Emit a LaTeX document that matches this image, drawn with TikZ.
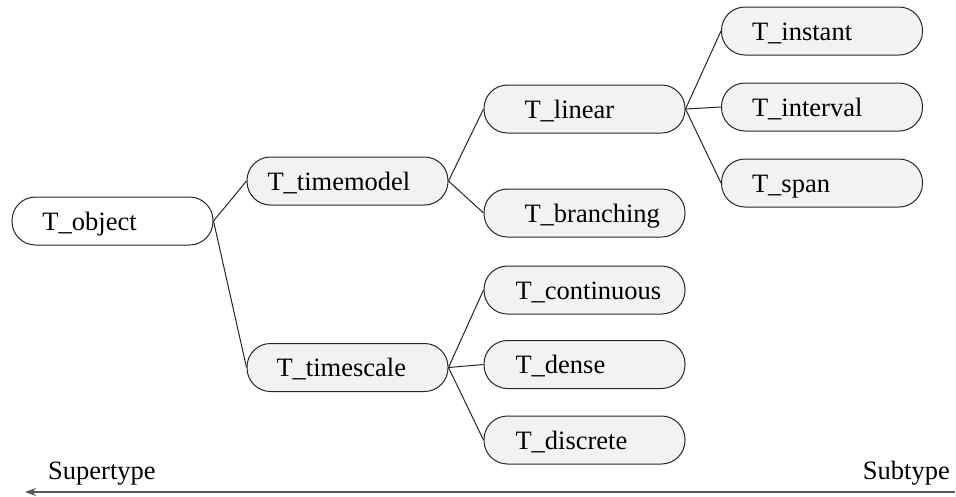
\documentclass[tikz,border=0pt]{standalone}
\usepackage{fontspec}
\setmainfont{Liberation Serif}
\usetikzlibrary{arrows.meta}
\newcommand\boxlbl[2]{\makebox[200pt][l]{\hspace*{#1}#2}}
\begin{document}
\begin{tikzpicture}[x=1pt,y=-1pt,
  box/.style={draw=black!85, line width=1pt, rounded corners=23.5pt,
    minimum width=201pt, minimum height=48pt, inner sep=0pt,
    fill=black!5, text height=18pt, text depth=0pt,
    font=\fontsize{26.5}{30}\selectfont},
  link/.style={draw=black!85, line width=1pt},
  plain/.style={inner sep=0pt, font=\fontsize{26.5}{30}\selectfont}]
\useasboundingbox (0,0) rectangle (956,496);

\node[box, fill=white] (obj) at (112.5,221) {\boxlbl{30pt}{T\_object}};
\node[box] (tm)   at (347.5,181)   {\boxlbl{20pt}{T\_timemodel}};
\node[box] (ts)   at (347.5,367.5) {\boxlbl{29pt}{T\_timescale}};
\node[box] (lin)  at (584.5,109)   {\boxlbl{40pt}{T\_linear}};
\node[box] (br)   at (584.5,213)   {\boxlbl{40pt}{T\_branching}};
\node[box] (cont) at (584.5,290)   {\boxlbl{31pt}{T\_continuous}};
\node[box] (den)  at (584.5,364.5) {\boxlbl{31pt}{T\_dense}};
\node[box] (dis)  at (584.5,440)   {\boxlbl{31pt}{T\_discrete}};
\node[box] (inst) at (822,31)      {\boxlbl{30pt}{T\_instant}};
\node[box] (intv) at (822,107)     {\boxlbl{30pt}{T\_interval}};
\node[box] (span) at (822,183)     {\boxlbl{30pt}{T\_span}};

\draw[link] (obj.east) -- (tm.west);
\draw[link] (obj.east) -- (ts.west);
\draw[link] (tm.east) -- (lin.west);
\draw[link] (tm.east) -- (br.west);
\draw[link] (ts.east) -- (cont.west);
\draw[link] (ts.east) -- (den.west);
\draw[link] (ts.east) -- (dis.west);
\draw[link] (lin.east) -- (inst.west);
\draw[link] (lin.east) -- (intv.west);
\draw[link] (lin.east) -- (span.west);

\node[plain, anchor=base west] (sup) at (48,479) {Supertype};
\node[plain, anchor=base east] (sub) at (950,479) {Subtype};
\coordinate (axR) at (955,492);
\coordinate (axL) at (25,492);
\draw[draw=black!65, line width=1.3pt, -{Stealth[length=11pt,width=8pt]}] (axR) -- (axL);
\end{tikzpicture}
\end{document}
